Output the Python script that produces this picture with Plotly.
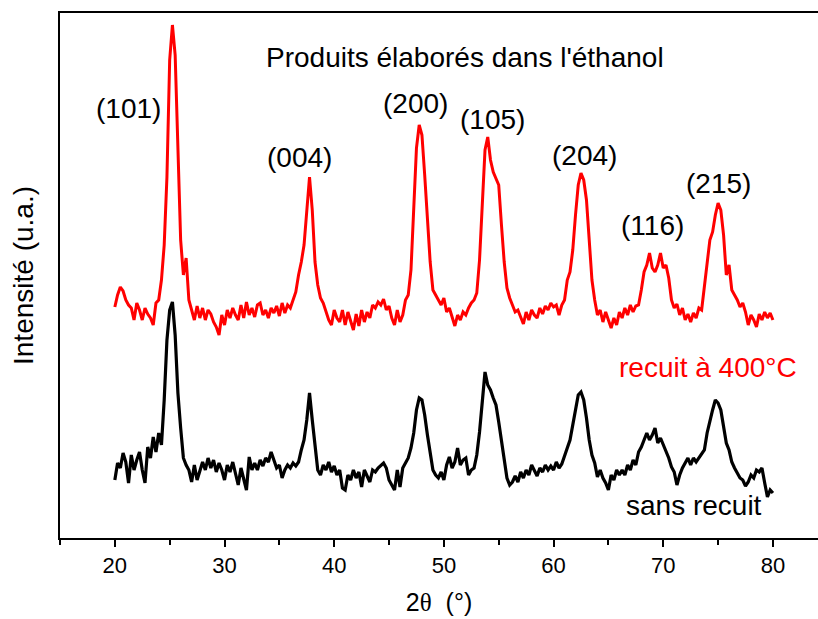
import numpy as np
import plotly.graph_objects as go

# 2-theta scan grid (degrees), 0.25 deg step from 20 to 80
two_theta = np.round(np.arange(20.0, 80.0001, 0.25), 2)

# Intensity (a.u.) - annealed at 400 C (red)
recuit_400 = [
    231, 243, 251, 247, 238, 233, 230, 218, 235, 228, 218, 230, 224, 220, 213, 235, 238, 258, 293, 361,
    478, 513, 483, 378, 298, 263, 280, 238, 228, 218, 232, 220, 230, 218, 228, 224, 216, 211, 203, 223,
    213, 228, 220, 230, 223, 218, 233, 220, 236, 223, 230, 221, 233, 235, 223, 228, 220, 230, 225, 232,
    222, 235, 225, 233, 230, 238, 246, 263, 276, 293, 323, 361, 328, 276, 253, 240, 235, 226, 218, 213,
    228, 220, 216, 228, 213, 226, 218, 208, 224, 212, 228, 216, 226, 220, 233, 230, 236, 233, 239, 228,
    232, 220, 213, 228, 216, 223, 238, 243, 268, 328, 390, 413, 403, 363, 313, 276, 248, 243, 238, 233,
    240, 226, 230, 220, 212, 223, 218, 226, 223, 230, 235, 238, 245, 278, 338, 388, 401, 378, 366, 360,
    353, 313, 276, 250, 240, 233, 226, 228, 220, 214, 226, 218, 228, 223, 220, 230, 224, 232, 228, 235,
    231, 233, 223, 233, 238, 258, 266, 288, 323, 353, 365, 358, 338, 298, 258, 238, 223, 228, 216, 226,
    218, 210, 220, 213, 226, 220, 230, 223, 233, 226, 232, 233, 248, 266, 273, 285, 270, 266, 273, 285,
    270, 273, 260, 238, 230, 234, 223, 230, 218, 224, 216, 225, 220, 230, 228, 253, 276, 298, 306, 323,
    335, 328, 303, 263, 273, 248, 243, 238, 231, 235, 226, 213, 223, 218, 211, 224, 218, 226, 220, 225,
    218,
]

# Intensity (a.u.) - not annealed (black)
sans_recuit = [
    58, 75, 70, 85, 76, 55, 83, 68, 78, 86, 68, 55, 91, 80, 101, 86, 105, 93, 138, 198,
    228, 236, 203, 145, 110, 80, 73, 68, 56, 73, 58, 68, 76, 68, 80, 70, 78, 66, 75, 68,
    58, 73, 66, 76, 63, 53, 70, 60, 48, 81, 68, 75, 68, 78, 72, 80, 76, 86, 78, 70,
    73, 60, 68, 73, 70, 75, 72, 76, 88, 98, 118, 145, 118, 90, 68, 63, 73, 68, 76, 66,
    72, 63, 68, 50, 48, 63, 58, 68, 60, 66, 51, 68, 62, 56, 68, 66, 70, 73, 75, 70,
    58, 53, 48, 68, 51, 70, 75, 80, 90, 105, 128, 140, 138, 123, 103, 83, 68, 63, 60, 66,
    58, 73, 81, 70, 76, 90, 73, 78, 80, 63, 68, 70, 83, 106, 133, 166, 153, 148, 140, 133,
    116, 98, 76, 60, 53, 56, 62, 56, 66, 60, 68, 63, 73, 68, 62, 70, 66, 73, 68, 72,
    68, 76, 70, 74, 83, 90, 98, 113, 130, 143, 146, 138, 120, 98, 83, 75, 61, 68, 60, 55,
    48, 63, 58, 68, 63, 68, 63, 73, 68, 78, 73, 86, 91, 98, 105, 98, 103, 110, 95, 100,
    93, 88, 80, 71, 66, 53, 63, 70, 75, 80, 73, 80, 76, 80, 83, 88, 105, 118, 128, 138,
    135, 128, 113, 95, 88, 76, 70, 65, 60, 58, 52, 56, 63, 60, 68, 66, 70, 55, 41, 48,
    45,
]

# Miller indices labels
peak_labels = ["(101)", "(004)", "(200)", "(105)", "(204)", "(116)", "(215)"]
x_tick_values = [20, 30, 40, 50, 60, 70, 80]

FONT = "Liberation Sans, Arial, sans-serif"
ANN_SIZE = 28

fig = go.Figure()
fig.add_trace(go.Scatter(x=two_theta, y=sans_recuit, mode="lines",
                         line=dict(color="black", width=3.2), name="sans recuit",
                         showlegend=False))
fig.add_trace(go.Scatter(x=two_theta, y=recuit_400, mode="lines",
                         line=dict(color="#ff0000", width=3), name="recuit à 400°C",
                         showlegend=False))

# label positions (layout)
label_pos = [(21.29, 430), (36.88, 381), (47.37, 435), (54.39, 419),
             (62.78, 383), (68.98, 313), (75.0, 355)]
annotations = []
for txt, (ax, ay) in zip(peak_labels, label_pos):
    annotations.append(dict(x=ax, y=ay, xref="x", yref="y", text=txt, showarrow=False,
                            font=dict(family=FONT, size=ANN_SIZE, color="black")))
annotations.append(dict(x=51.93, y=481, xref="x", yref="y",
                        text="Produits élaborés dans l'éthanol", showarrow=False,
                        font=dict(family=FONT, size=ANN_SIZE, color="black")))
annotations.append(dict(x=74.09, y=171, xref="x", yref="y", text="recuit à 400°C",
                        showarrow=False, font=dict(family=FONT, size=ANN_SIZE, color="#ff0000")))
annotations.append(dict(x=72.81, y=33, xref="x", yref="y", text="sans recuit",
                        showarrow=False, font=dict(family=FONT, size=ANN_SIZE, color="black")))

fig.update_layout(
    width=818, height=619,
    margin=dict(l=60, r=0, t=13, b=81),
    paper_bgcolor="white", plot_bgcolor="white",
    font=dict(family=FONT, color="black"),
    annotations=annotations,
    xaxis=dict(
        range=[15, 84.11], showgrid=False, zeroline=False,
        showline=True, linecolor="black", linewidth=2, mirror=True,
        tickmode="array", tickvals=x_tick_values,
        ticks="outside", ticklen=7, tickwidth=2, tickcolor="black",
        tickfont=dict(family=FONT, size=22, color="black"),
        minor=dict(tickmode="array", tickvals=[15, 25, 35, 45, 55, 65, 75, 85],
                   ticks="outside", ticklen=5, tickwidth=2, tickcolor="black"),
        title=dict(text="2<span style=\"font-family:Liberation Serif\">θ</span>  (°)",
                   font=dict(family=FONT, size=25, color="black"), standoff=16),
    ),
    yaxis=dict(
        range=[0, 525], showgrid=False, zeroline=False,
        showline=True, linecolor="black", linewidth=2, mirror=False,
        showticklabels=False, ticks="",
        title=dict(text="Intensité (u.a.)", font=dict(family=FONT, size=28, color="black"),
                   standoff=16),
    ),
)

fig.write_html("out.html")
